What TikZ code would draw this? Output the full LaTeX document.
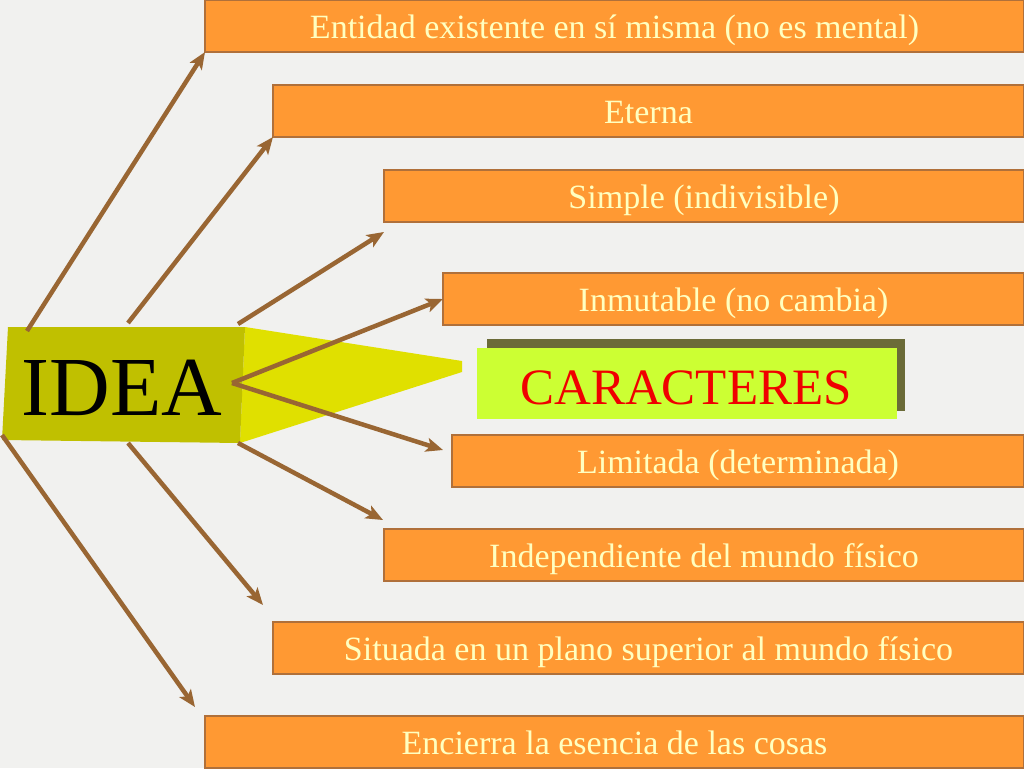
\documentclass[tikz,border=0pt]{standalone}
\usepackage{fontspec}
\setmainfont{Liberation Serif}
\usetikzlibrary{arrows.meta}
\definecolor{bgc}{HTML}{F1F1EF}
\definecolor{boxfill}{HTML}{FF9933}
\definecolor{boxline}{HTML}{B0703A}
\definecolor{boxtext}{HTML}{FFFFC0}
\definecolor{arr}{HTML}{996633}
\definecolor{ideadark}{HTML}{C0C000}
\definecolor{idealight}{HTML}{E0E000}
\definecolor{carfront}{HTML}{CCFF33}
\definecolor{carshadow}{HTML}{6B6B38}
\definecolor{cartext}{HTML}{F00000}
\tikzset{
  itembox/.style={draw=boxline, line width=1.5pt, fill=boxfill, text=boxtext,
    anchor=north west, inner sep=0pt, outer sep=0pt, minimum height=52pt,
    text height=27pt, text depth=3pt, font=\fontsize{34}{36}\selectfont},
  conn/.style={draw=arr, line width=4.5pt, -{Stealth[length=17pt,width=14pt,inset=4pt]}}
}
\begin{document}
\begin{tikzpicture}[x=1pt,y=-1pt]
\useasboundingbox (0,0) rectangle (1024,768);
\fill[bgc] (0,0) rectangle (1024,768);

% IDEA block
\fill[idealight] (245,327) -- (462,361) -- (462,372) -- (240,443) -- cycle;
\fill[ideadark] (8,327) -- (245,327) -- (240,443) -- (2,440) -- cycle;
\node[anchor=base, inner sep=0pt, font=\fontsize{84}{90}\selectfont] (idea) at (122,415) {IDEA};

% CARACTERES
\fill[carshadow] (487,339) rectangle (905,411);
\node[fill=carfront, anchor=north west, inner sep=0pt, minimum width=420pt, minimum height=71pt] (carbox) at (477,348) {};
\node[anchor=base, inner sep=0pt, text=cartext, font=\fontsize{51}{56}\selectfont] (car) at (686,404) {CARACTERES};

% boxes
\node[itembox, minimum width=819pt] (ent) at (205,0) {Entidad existente en sí misma (no es mental)};
\node[itembox, minimum width=751pt] (et) at (273,85) {Eterna};
\node[itembox, minimum width=640pt] (sim) at (384,170) {Simple (indivisible)};
\node[itembox, minimum width=581pt] (inm) at (443,273) {Inmutable (no cambia)};
\node[itembox, minimum width=572pt] (lim) at (452,435) {Limitada (determinada)};
\node[itembox, minimum width=640pt] (ind) at (384,529) {Independiente del mundo físico};
\node[itembox, minimum width=751pt] (sit) at (273,622) {Situada en un plano superior al mundo físico};
\node[itembox, minimum width=819pt] (enc) at (205,716) {Encierra la esencia de las cosas};

% tails
\coordinate (t1) at (27,331);
\coordinate (t2) at (128,323);
\coordinate (t3) at (238,324);
\coordinate (tc) at (232,383);
\coordinate (t6) at (238,443);
\coordinate (t7) at (128,443);
\coordinate (t8) at (2,435);

\draw[conn] (t1) -- (ent.south west);
\draw[conn] (t2) -- (et.south west);
\draw[conn] (t3) -- ([yshift=-10pt]sim.south west);
\draw[conn] (tc) -- (inm.west);
\draw[conn] (tc) -- ([xshift=-9pt,yshift=-15pt]lim.north west);
\draw[conn] (t6) -- ([xshift=-1pt,yshift=9pt]ind.north west);
\draw[conn] (t7) -- ([xshift=-10pt,yshift=17pt]sit.north west);
\draw[conn] (t8) -- ([xshift=-10pt,yshift=9pt]enc.north west);
\end{tikzpicture}
\end{document}
